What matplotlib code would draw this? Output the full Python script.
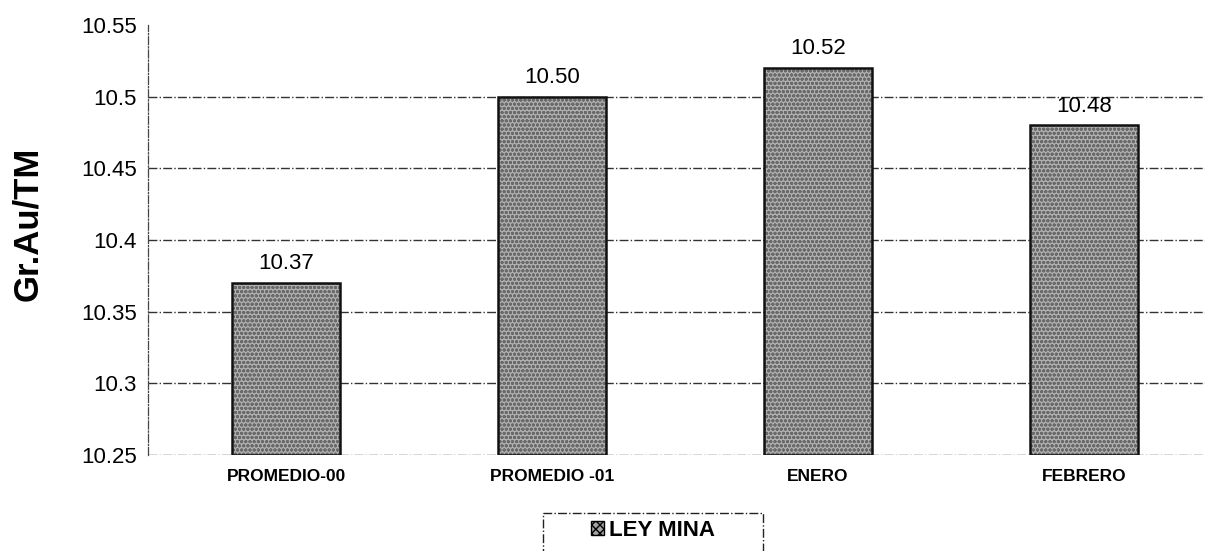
import numpy as np
import matplotlib.pyplot as plt
from matplotlib.patches import Rectangle, Patch

plt.rcParams['font.family'] = ['Liberation Sans', 'DejaVu Sans']

categorias = ["PROMEDIO-00", "PROMEDIO -01", "ENERO", "FEBRERO"]
ley_mina = [10.37, 10.50, 10.52, 10.48]
yticks = [10.25, 10.3, 10.35, 10.4, 10.45, 10.5, 10.55]
ytick_labels = ["10.25", "10.3", "10.35", "10.4", "10.45", "10.5", "10.55"]

fig = plt.figure(figsize=(12.05, 5.51), dpi=100)
ax = fig.add_axes([0.1228, 0.1742, 0.8772, 0.7804])

x = np.arange(len(categorias))
base = 10.25
alturas = [v - base for v in ley_mina]

# grainy grey fill, then a black outline on top
ax.bar(x, alturas, width=0.405, bottom=base, color='#b0b0b0',
       edgecolor='#6a6a6a', hatch='oooo', linewidth=0, zorder=2)
ax.bar(x, alturas, width=0.405, bottom=base, fill=False,
       edgecolor='#111111', linewidth=1.8, zorder=3)

for xi, v in zip(x, ley_mina):
    ax.text(xi, v + 0.006, f"{v:.2f}", ha='center', va='bottom', fontsize=16)

ax.set_xlim(-0.519, 3.455)
ax.set_ylim(10.25, 10.55)
ax.set_yticks(yticks)
ax.set_yticklabels(ytick_labels, fontsize=16)
ax.set_xticks(x)
ax.set_xticklabels(categorias, fontsize=12.5, fontweight='bold')
ax.tick_params(axis='x', length=0, pad=10)
ax.tick_params(axis='y', length=0, pad=8)

ax.grid(axis='y', linestyle='-.', color='#333333', linewidth=1.0, zorder=1)
ax.yaxis.get_gridlines()[-1].set_visible(False)
ax.set_axisbelow(True)
for s in ['top', 'right', 'bottom']:
    ax.spines[s].set_visible(False)
ax.spines['left'].set_linestyle('-.')
ax.spines['left'].set_linewidth(0.9)
ax.spines['left'].set_color('#444444')

ax.set_ylabel("Gr.Au/TM", fontsize=25, fontweight='bold')
ax.yaxis.set_label_coords(-0.098, 0.537)

# legend box at the bottom
caja = Rectangle((543 / 1205, -0.05), 220 / 1205, 1 - 513 / 551 + 0.05,
                 transform=fig.transFigure, fill=False, edgecolor='#222222',
                 linestyle='-.', linewidth=1.0)
fig.patches.append(caja)
fig.legend(handles=[Patch(facecolor='#a3a3a3', edgecolor='black', hatch='xxxx',
                          label='LEY MINA')],
           loc='center', bbox_to_anchor=(653 / 1205, 1 - 530 / 551),
           frameon=False, prop={'weight': 'bold', 'size': 16},
           handlelength=0.6, handleheight=0.6, handletextpad=0.25)

fig.savefig("out.png", dpi=100)
